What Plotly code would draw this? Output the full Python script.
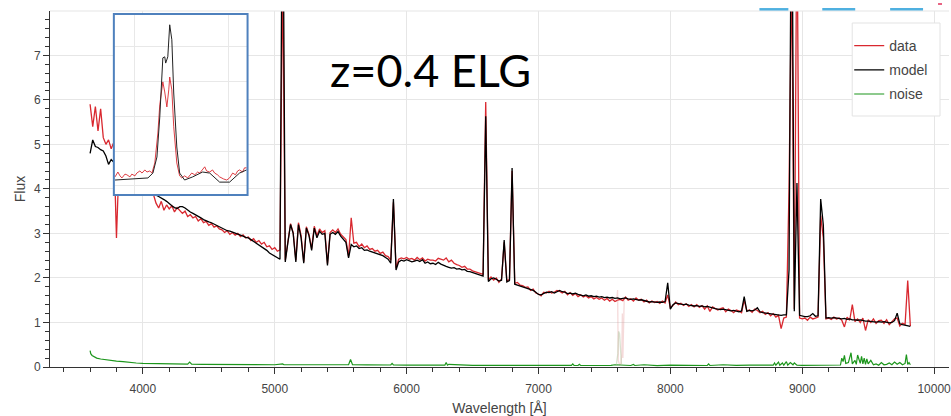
import plotly.graph_objects as go

# ---------------- data ----------------
wavelength = list(range(3600, 9821, 20))  # sampling grid, Angstrom

flux_data = [
    5.90, 5.40, 5.85, 5.30, 5.80, 5.15, 5.00, 5.10, 4.90, 5.05,
    2.90, 4.62, 4.70, 4.48, 4.55, 4.40, 4.45, 4.30, 4.35, 4.22,
    4.20, 4.10, 4.12, 3.98, 3.88, 3.68, 3.57, 3.72, 3.52, 3.64,
    3.55, 3.62, 3.48, 3.58, 3.52, 3.45, 3.50, 3.38, 3.42, 3.35,
    3.38, 3.28, 3.33, 3.24, 3.27, 3.18, 3.22, 3.14, 3.17, 3.10,
    3.08, 3.02, 3.06, 2.98, 3.02, 2.96, 3.00, 2.93, 2.97, 2.90,
    2.92, 2.84, 2.88, 2.80, 2.84, 2.76, 2.80, 2.70, 2.72, 2.64,
    2.68, 2.60, 2.63, 9.00, 2.40, 2.85, 3.22, 3.02, 2.40, 3.24,
    2.95, 2.36, 3.15, 2.98, 2.66, 3.16, 2.95, 3.10, 3.02, 3.06,
    2.32, 3.02, 3.08, 3.02, 3.10, 2.98, 2.92, 2.86, 2.48, 3.35,
    2.78, 2.80, 2.70, 2.76, 2.68, 2.72, 2.64, 2.66, 2.60, 2.62,
    2.55, 2.58, 2.50, 2.48, 2.40, 3.70, 2.22, 2.42, 2.45, 2.43,
    2.46, 2.42, 2.44, 2.40, 2.46, 2.41, 2.45, 2.38, 2.42, 2.40,
    2.40, 2.38, 2.44, 2.42, 2.40, 2.45, 2.36, 2.40, 2.33, 2.30,
    2.28, 2.24, 2.26, 2.20, 2.20, 2.16, 2.14, 2.12, 2.10, 2.08,
    5.95, 1.96, 2.02, 1.95, 2.00, 1.90, 1.98, 2.80, 1.94, 1.96,
    4.40, 1.88, 1.90, 1.84, 1.83, 1.79, 1.80, 1.72, 1.75, 1.66,
    1.64, 1.60, 1.68, 1.66, 1.70, 1.66, 1.68, 1.72, 1.70, 1.66,
    1.70, 1.62, 1.67, 1.61, 1.65, 1.58, 1.62, 1.57, 1.60, 1.55,
    1.58, 1.53, 1.56, 1.52, 1.55, 1.50, 1.54, 1.48, 1.52, 1.47,
    1.50, 1.52, 1.49, 1.57, 1.50, 1.53, 1.48, 1.55, 1.50, 1.52,
    1.46, 1.50, 1.44, 1.48, 1.45, 1.47, 1.43, 1.48, 1.44, 1.62,
    1.33, 1.38, 1.46, 1.40, 1.43, 1.38, 1.42, 1.36, 1.40, 1.35,
    1.40, 1.34, 1.38, 1.30, 1.37, 1.25, 1.35, 1.32, 1.28, 1.31,
    1.33, 1.24, 1.30, 1.27, 1.22, 1.28, 1.26, 1.22, 1.50, 1.26,
    1.28, 1.23, 1.30, 1.27, 1.22, 1.25, 1.18, 1.22, 1.15, 1.20,
    1.12, 1.16, 0.86, 1.10, 1.12, 4.00, 9.00, 1.30, 10.5, 1.10,
    1.08, 1.10, 1.05, 1.12, 1.08, 1.10, 1.12, 3.40, 2.90, 1.08,
    1.10, 1.07, 1.12, 1.08, 1.10, 1.05, 0.90, 1.12, 1.05, 1.40,
    1.02, 1.08, 1.00, 1.10, 0.82, 1.06, 1.00, 1.08, 0.98, 1.04,
    1.05, 0.98, 1.06, 0.95, 1.02, 1.08, 1.10, 0.92, 0.98, 0.96,
    1.94, 0.92,
]

flux_model = [
    4.80, 5.10, 4.95, 4.93, 4.88, 4.85, 4.74, 4.55, 4.66, 4.60,
    4.52, 4.48, 4.42, 4.38, 4.33, 4.30, 4.25, 4.21, 4.18, 4.14,
    4.10, 4.06, 4.02, 3.95, 3.90, 3.86, 3.83, 3.80, 3.76, 3.72,
    3.66, 3.62, 3.58, 3.56, 3.60, 3.60, 3.57, 3.52, 3.48, 3.45,
    3.42, 3.38, 3.35, 3.31, 3.28, 3.26, 3.24, 3.21, 3.19, 3.16,
    3.12, 3.10, 3.06, 3.05, 3.03, 3.01, 2.99, 2.96, 2.94, 2.91,
    2.90, 2.86, 2.82, 2.78, 2.75, 2.70, 2.66, 2.62, 2.56, 2.52,
    2.50, 2.46, 2.42, 12.0, 2.36, 2.80, 3.20, 3.00, 2.36, 3.20,
    2.90, 2.33, 3.12, 2.95, 2.62, 3.12, 2.90, 3.05, 2.98, 3.00,
    2.28, 2.98, 3.02, 2.98, 3.04, 2.94, 2.88, 2.80, 2.45, 2.75,
    2.70, 2.72, 2.66, 2.68, 2.62, 2.63, 2.60, 2.58, 2.56, 2.55,
    2.52, 2.50, 2.46, 2.42, 2.33, 3.77, 2.18, 2.36, 2.40, 2.38,
    2.41, 2.38, 2.36, 2.38, 2.40, 2.37, 2.41, 2.33, 2.36, 2.32,
    2.33, 2.30, 2.35, 2.31, 2.28, 2.26, 2.24, 2.22, 2.23, 2.20,
    2.21, 2.18, 2.19, 2.15, 2.14, 2.12, 2.10, 2.08, 2.07, 2.04,
    5.63, 1.92, 1.98, 2.00, 1.97, 1.93, 1.95, 2.85, 1.91, 1.94,
    4.47, 1.86, 1.84, 1.82, 1.80, 1.78, 1.77, 1.74, 1.72, 1.68,
    1.63, 1.62, 1.66, 1.68, 1.67, 1.69, 1.66, 1.70, 1.72, 1.69,
    1.68, 1.65, 1.66, 1.64, 1.66, 1.63, 1.62, 1.60, 1.62, 1.59,
    1.60, 1.58, 1.59, 1.57, 1.58, 1.56, 1.57, 1.55, 1.56, 1.54,
    1.55, 1.53, 1.54, 1.55, 1.53, 1.52, 1.53, 1.51, 1.50, 1.51,
    1.49, 1.48, 1.46, 1.47, 1.46, 1.45, 1.46, 1.45, 1.47, 1.89,
    1.30, 1.40, 1.44, 1.42, 1.41, 1.40, 1.41, 1.39, 1.38, 1.37,
    1.38, 1.36, 1.37, 1.35, 1.36, 1.34, 1.33, 1.31, 1.30, 1.29,
    1.30, 1.29, 1.28, 1.26, 1.27, 1.25, 1.24, 1.26, 1.58, 1.25,
    1.27, 1.26, 1.28, 1.33, 1.24, 1.22, 1.21, 1.20, 1.19, 1.18,
    1.18, 1.17, 1.16, 1.17, 1.17, 2.18, 12.0, 1.25, 4.13, 1.16,
    1.14, 1.13, 1.13, 1.15, 1.20, 1.14, 1.15, 3.77, 3.19, 1.10,
    1.11, 1.10, 1.11, 1.10, 1.09, 1.08, 1.09, 1.07, 1.08, 1.06,
    1.06, 1.05, 1.06, 1.04, 1.03, 1.03, 1.02, 1.02, 1.01, 1.02,
    1.01, 1.02, 1.00, 0.99, 1.00, 1.04, 1.21, 0.97, 0.95, 0.94,
    0.93, 0.91,
]

noise_wl = [
    3600, 3605, 3615, 3630, 3650, 3680, 3720, 3760, 3800, 3850,
    3900, 3950, 4000, 4100, 4200, 4300, 4340, 4355, 4370, 4450,
    4600, 4800, 5000, 5060, 5070, 5200, 5400, 5560, 5575, 5590,
    5700, 5760, 5775, 5790, 5880, 5890, 5900, 6000, 6100, 6200,
    6290, 6300, 6310, 6320, 6500, 6700, 6900, 7100, 7250, 7260,
    7270, 7300, 7310, 7320, 7450, 7550, 7580, 7650, 7700, 7720,
    7730, 7800, 7900, 8000, 8100, 8200, 8280, 8290, 8300, 8400,
    8500, 8600, 8700, 8780, 8790, 8800, 8820, 8830, 8850, 8860,
    8880, 8890, 8910, 8930, 8940, 8960, 9000, 9100, 9200, 9290,
    9300, 9310, 9320, 9330, 9350, 9370, 9380, 9400, 9410, 9420,
    9440, 9450, 9460, 9470, 9480, 9490, 9500, 9520, 9540, 9560,
    9580, 9600, 9620, 9640, 9660, 9680, 9700, 9720, 9740, 9760,
    9780, 9790, 9800, 9810, 9820,
]
noise_flux = [
    0.37, 0.30, 0.26, 0.23, 0.20, 0.18, 0.16, 0.14, 0.13, 0.12,
    0.10, 0.09, 0.08, 0.075, 0.07, 0.065, 0.065, 0.11, 0.065, 0.06,
    0.055, 0.055, 0.05, 0.07, 0.05, 0.05, 0.048, 0.05, 0.17, 0.05,
    0.046, 0.045, 0.06, 0.045, 0.045, 0.08, 0.045, 0.042, 0.04, 0.04,
    0.04, 0.10, 0.04, 0.06, 0.038, 0.036, 0.035, 0.034, 0.035, 0.07,
    0.035, 0.034, 0.06, 0.034, 0.033, 0.035, 0.05, 0.035, 0.034, 0.06,
    0.034, 0.05, 0.033, 0.04, 0.033, 0.035, 0.034, 0.07, 0.034, 0.05,
    0.035, 0.04, 0.036, 0.04, 0.09, 0.04, 0.11, 0.04, 0.09, 0.04,
    0.12, 0.04, 0.10, 0.05, 0.09, 0.04, 0.038, 0.036, 0.04, 0.045,
    0.20, 0.12, 0.26, 0.08, 0.10, 0.32, 0.07, 0.15, 0.06, 0.27,
    0.08, 0.24, 0.07, 0.20, 0.06, 0.18, 0.07, 0.15, 0.05, 0.07,
    0.04, 0.10, 0.05, 0.06, 0.09, 0.05, 0.11, 0.06, 0.10, 0.05,
    0.08, 0.28, 0.06, 0.10, 0.05,
]

# masked telluric region (drawn faintly)
masked_wl = [7585, 7595, 7600, 7605, 7615, 7625, 7632, 7636, 7640, 7650]
masked_flux = [1.52, 1.55, 1.73, 0.15, 0.05, 0.08, 0.30, 1.20, 0.20, 1.50]
masked_noise_wl = [7590, 7602, 7608, 7615, 7622, 7630]
masked_noise_flux = [0.04, 0.30, 0.80, 0.75, 0.40, 0.04]

# inset: zoom on the emission line
inset_model_wl = [5031.9, 5038.2, 5045.8, 5047.9, 5049.6, 5050.8, 5051.7, 5052.1,
                  5052.9, 5053.3, 5054.2, 5055.0, 5055.9, 5056.7, 5058.0, 5059.2,
                  5061.3, 5064.7, 5068.9, 5071.9, 5076.1, 5080.3, 5084.5, 5087.5]
inset_model_flux = [0.17, 0.20, 0.23, 0.37, 0.83, 1.98, 3.13, 3.68,
                    3.71, 3.53, 3.71, 4.63, 4.20, 2.67, 1.12, 0.37,
                    0.17, 0.26, 0.40, 0.37, 0.11, 0.11, 0.37, 0.46]
inset_data_wl = [5031.9, 5033.1, 5034.0, 5034.8, 5036.1, 5036.9, 5038.2, 5039.0,
                 5040.3, 5041.1, 5042.4, 5043.3, 5044.5, 5045.4, 5046.6, 5047.5,
                 5048.7, 5050.0, 5050.8, 5051.7, 5052.1, 5052.9, 5053.8, 5054.6,
                 5055.0, 5055.9, 5056.7, 5058.0, 5059.2, 5060.1, 5061.3, 5062.6,
                 5063.5, 5064.3, 5065.6, 5066.8, 5067.7, 5068.9, 5069.8, 5070.6,
                 5071.9, 5073.1, 5074.0, 5075.2, 5076.1, 5077.8, 5079.1, 5080.3,
                 5081.6, 5082.8, 5083.7, 5084.5, 5085.8, 5086.6, 5087.5]
inset_data_flux = [0.26, 0.40, 0.29, 0.23, 0.34, 0.32, 0.26, 0.34,
                   0.29, 0.37, 0.43, 0.37, 0.46, 0.40, 0.43, 0.37,
                   0.66, 1.52, 2.33, 2.84, 2.99, 2.70, 2.27, 2.76,
                   3.13, 2.76, 1.70, 0.66, 0.29, 0.23, 0.29, 0.23,
                   0.32, 0.37, 0.32, 0.40, 0.37, 0.46, 0.55, 0.43,
                   0.40, 0.46, 0.37, 0.32, 0.26, 0.20, 0.17, 0.23,
                   0.37, 0.32, 0.43, 0.46, 0.40, 0.52, 0.52]

legend_labels = ["data", "model", "noise"]
annotation_text = "z=0.4 ELG"
x_title = "Wavelength [Å]"
y_title = "Flux"

# ---------------- styling ----------------
RED = "#d9282f"
BLACK = "#000000"
GREEN = "#1c961c"
AXIS = "#333333"
GRID = "#e6e6e6"
TXT = "#444444"
FONT = "Liberation Sans, Arial, sans-serif"

W, H = 951, 416
ML, MR, MT, MB = 50, 0, 11, 49
PW, PH = W - ML - MR, H - MT - MB


def px_x(px):
    return (px - ML) / PW


def px_y(py):
    return (H - MB - py) / PH


fig = go.Figure()

fig.add_trace(go.Scatter(x=wavelength, y=flux_data, mode="lines", name=legend_labels[0],
                         legendgroup="a", line=dict(color=RED, width=1.3)))
fig.add_trace(go.Scatter(x=masked_wl, y=masked_flux, mode="lines", showlegend=False,
                         hoverinfo="skip", line=dict(color="rgba(225,150,150,0.35)", width=1.3)))
fig.add_trace(go.Scatter(x=wavelength, y=flux_model, mode="lines", name=legend_labels[1],
                         legendgroup="b", line=dict(color=BLACK, width=1.3)))
fig.add_trace(go.Scatter(x=noise_wl, y=noise_flux, mode="lines", name=legend_labels[2],
                         legendgroup="c", line=dict(color=GREEN, width=1.2)))
fig.add_trace(go.Scatter(x=masked_noise_wl, y=masked_noise_flux, mode="lines", showlegend=False,
                         hoverinfo="skip", line=dict(color="rgba(170,190,150,0.45)", width=1.3)))

# inset
fig.add_trace(go.Scatter(x=inset_data_wl, y=inset_data_flux, mode="lines", showlegend=False,
                         xaxis="x2", yaxis="y2", line=dict(color=RED, width=0.9)))
fig.add_trace(go.Scatter(x=inset_model_wl, y=inset_model_flux, mode="lines", showlegend=False,
                         xaxis="x2", yaxis="y2", line=dict(color="#222222", width=1.0)))

inset_xr = [5031.4, 5087.9]
inset_yr = [-0.26, 4.94]

fig.update_layout(
    width=W, height=H,
    margin=dict(l=ML, r=MR, t=MT, b=MB, pad=0),
    paper_bgcolor="white", plot_bgcolor="white",
    font=dict(family=FONT, color=TXT),
    showlegend=True,
    legend=dict(x=px_x(851), y=px_y(30), xanchor="left", yanchor="top",
                bgcolor="rgba(0,0,0,0)", borderwidth=0,
                font=dict(family=FONT, size=14, color=TXT),
                traceorder="grouped", tracegroupgap=3, itemwidth=30),
    xaxis=dict(range=[3296, 10113], domain=[0, 1], anchor="y",
               showline=True, linecolor=AXIS, linewidth=1, mirror=False,
               tickmode="linear", tick0=0, dtick=1000, tickformat="d",
               ticks="outside", ticklen=6, tickwidth=1, tickcolor=AXIS,
               tickfont=dict(family=FONT, size=12, color=TXT),
               ticklabelstandoff=5, ticklabeloverflow="allow",
               showgrid=True, gridcolor=GRID, gridwidth=1, zeroline=False,
               minor=dict(tickmode="linear", tick0=0, dtick=200, ticks="outside",
                          ticklen=4, tickwidth=1, tickcolor=AXIS, showgrid=False),
               title=dict(text=x_title, font=dict(family=FONT, size=14, color=TXT), standoff=9)),
    yaxis=dict(range=[0, 7.995], domain=[0, 1], anchor="x",
               showline=True, linecolor=AXIS, linewidth=1,
               tickmode="linear", tick0=0, dtick=1,
               ticks="outside", ticklen=6, tickwidth=1, tickcolor=AXIS,
               tickfont=dict(family=FONT, size=12, color=TXT),
               showgrid=True, gridcolor=GRID, gridwidth=1, zeroline=False,
               minor=dict(tickmode="linear", tick0=0, dtick=0.2, ticks="outside",
                          ticklen=4, tickwidth=1, tickcolor=AXIS, showgrid=False),
               title=dict(text=y_title, font=dict(family=FONT, size=14, color=TXT), standoff=5)),
    xaxis2=dict(domain=[px_x(114), px_x(248)], anchor="y2", range=inset_xr,
                tickmode="array", tickvals=[5040, 5080], showticklabels=False, ticks="",
                showgrid=True, gridcolor="#e8e8e8", zeroline=False, showline=False),
    yaxis2=dict(domain=[px_y(195), px_y(14)], anchor="x2", range=inset_yr,
                tickmode="array", tickvals=[0, 1, 2, 3, 4], showticklabels=False, ticks="",
                showgrid=True, gridcolor="#e8e8e8", zeroline=False, showline=False),
)

shapes = [
    # top grid line of the frame
    dict(type="line", xref="paper", yref="paper", x0=0, x1=1, y0=1, y1=1,
         line=dict(color=GRID, width=1.2), layer="above"),
    # inset white background (in the inset subplot, below its traces)
    dict(type="rect", xref="x2", yref="y2", x0=inset_xr[0], x1=inset_xr[1],
         y0=inset_yr[0], y1=inset_yr[1], fillcolor="white", line=dict(width=0), layer="below"),
    # inset border
    dict(type="rect", xref="paper", yref="paper", x0=px_x(114), x1=px_x(248),
         y0=px_y(195), y1=px_y(14), line=dict(color="#4f81bd", width=2),
         fillcolor="rgba(0,0,0,0)", layer="above"),
    # legend box
    dict(type="rect", xref="paper", yref="paper", x0=px_x(854), x1=px_x(942),
         y0=px_y(116), y1=px_y(23), line=dict(color="#e3e3e3", width=1),
         fillcolor="white", layer="above"),
]
# slide decorations along the top edge
for a, b in [(761, 790), (824, 857), (892, 925)]:
    shapes.append(dict(type="line", xref="paper", yref="paper", x0=px_x(a), x1=px_x(b),
                       y0=px_y(9.3), y1=px_y(9.3), line=dict(color="#4fb0e0", width=2.5)))
shapes.append(dict(type="line", xref="paper", yref="paper", x0=px_x(940), x1=px_x(944),
                   y0=px_y(4), y1=px_y(4), line=dict(color="#e0305a", width=1.5)))
fig.update_layout(shapes=shapes)

fig.add_annotation(text=annotation_text, xref="paper", yref="paper",
                   x=px_x(431), y=px_y(70), xanchor="center", yanchor="middle",
                   showarrow=False, font=dict(family="Lato, Open Sans, sans-serif", size=45, color="black"))

fig.write_html("out.html")
